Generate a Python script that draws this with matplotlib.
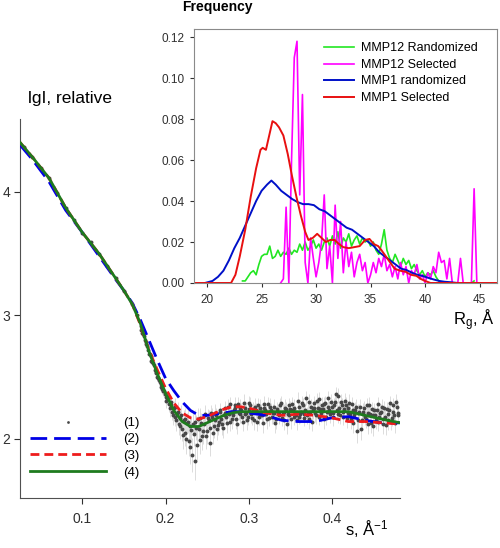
import numpy as np
import matplotlib
matplotlib.use('Agg')
import matplotlib.pyplot as plt

plt.rcParams['font.family'] = ['Liberation Sans', 'DejaVu Sans']
plt.rcParams['mathtext.fontset'] = 'custom'
plt.rcParams['mathtext.rm'] = 'Liberation Sans'
plt.rcParams['mathtext.default'] = 'regular'

# ---- SAXS data (1): low s part, hidden under the fits
s_low = [0.030, 0.040, 0.050, 0.060, 0.070, 0.080, 0.090, 0.100, 0.110, 0.120,
         0.130, 0.140, 0.150, 0.160, 0.166]
lgI_low = [4.36, 4.28, 4.19, 4.11, 3.99, 3.87, 3.77, 3.67, 3.59, 3.50,
           3.40, 3.30, 3.20, 3.09, 3.00]
err_low = [0.01, 0.01, 0.01, 0.01, 0.01, 0.01, 0.01, 0.01, 0.01, 0.01,
           0.01, 0.015, 0.015, 0.015, 0.02]

# dense part A, s = 0.170 ... 0.480 step 0.002
s_dense_a = np.arange(0.170, 0.4801, 0.002)
lgI_dense_a = [2.91, 2.86, 2.83, 2.78, 2.75, 2.69, 2.67, 2.62, 2.60, 2.54,
               2.50, 2.48, 2.44, 2.40, 2.39, 2.34, 2.33, 2.28, 2.30, 2.22,
               2.25, 2.18, 2.20, 2.12, 2.17, 2.08, 2.15, 2.05, 2.13, 1.98,
               2.10, 1.87, 2.04, 2.14, 1.95, 2.08, 2.17, 2.02, 2.12, 2.20,
               2.06, 2.15, 1.97, 2.18, 2.10, 2.21, 2.08, 2.14, 2.22, 2.12,
               2.19, 2.25, 2.13, 2.20, 2.28, 2.16, 2.23, 2.27, 2.12, 2.21,
               2.25, 2.18, 2.29, 2.20, 2.15, 2.24, 2.27, 2.17, 2.22, 2.26,
               2.14, 2.21, 2.25, 2.19, 2.28, 2.23, 2.16, 2.22, 2.26, 2.18,
               2.21, 2.13, 2.24, 2.20, 2.27, 2.17, 2.22, 2.25, 2.12, 2.19,
               2.24, 2.28, 2.18, 2.21, 2.15, 2.26, 2.20, 2.29, 2.17, 2.23,
               2.19, 2.30, 2.22, 2.14, 2.25, 2.21, 2.31, 2.18, 2.24, 2.27,
               2.16, 2.29, 2.22, 2.33, 2.20, 2.26, 2.18, 2.30, 2.23, 2.35,
               2.19, 2.27, 2.22, 2.31, 2.17, 2.25, 2.20, 2.28, 2.13, 2.23,
               2.06, 2.21, 2.26, 2.15, 2.22, 2.18, 2.27, 2.12, 2.20, 2.24,
               2.10, 2.19, 2.23, 2.14, 2.21, 2.26, 2.12, 2.18, 2.24, 2.15,
               2.29, 2.17, 2.22, 2.13, 2.26, 2.19]
err_dense_a = [0.02, 0.02, 0.02, 0.02, 0.02, 0.02, 0.02, 0.02, 0.03, 0.03,
               0.03, 0.03, 0.04, 0.04, 0.04, 0.05, 0.05, 0.06, 0.05, 0.07,
               0.06, 0.08, 0.07, 0.09, 0.07, 0.10, 0.08, 0.11, 0.08, 0.12,
               0.09, 0.14, 0.10, 0.09, 0.12, 0.10, 0.08, 0.11, 0.09, 0.07,
               0.10, 0.08, 0.11, 0.07, 0.09, 0.07, 0.09, 0.08, 0.06, 0.09,
               0.07, 0.06, 0.08, 0.07, 0.06, 0.08, 0.06, 0.07, 0.08, 0.06,
               0.07, 0.06, 0.07, 0.06, 0.08, 0.06, 0.07, 0.06, 0.06, 0.07,
               0.08, 0.06, 0.07, 0.06, 0.07, 0.06, 0.08, 0.06, 0.07, 0.06,
               0.07, 0.08, 0.06, 0.07, 0.06, 0.07, 0.06, 0.07, 0.08, 0.06,
               0.07, 0.06, 0.07, 0.06, 0.08, 0.06, 0.07, 0.06, 0.07, 0.06,
               0.07, 0.06, 0.07, 0.08, 0.06, 0.07, 0.06, 0.07, 0.06, 0.07,
               0.08, 0.06, 0.07, 0.06, 0.07, 0.06, 0.08, 0.06, 0.07, 0.06,
               0.07, 0.06, 0.07, 0.06, 0.08, 0.06, 0.07, 0.06, 0.08, 0.07,
               0.09, 0.07, 0.06, 0.08, 0.07, 0.07, 0.06, 0.08, 0.07, 0.06,
               0.08, 0.07, 0.06, 0.08, 0.07, 0.06, 0.08, 0.07, 0.06, 0.08,
               0.06, 0.07, 0.07, 0.08, 0.06, 0.07]

# dense part B, s = 0.171 ... 0.479 step 0.002
s_dense_b = np.arange(0.171, 0.4791, 0.002)
lgI_dense_b = [2.88, 2.85, 2.80, 2.77, 2.72, 2.69, 2.63, 2.61, 2.56, 2.53,
               2.49, 2.46, 2.42, 2.39, 2.36, 2.31, 2.34, 2.25, 2.27, 2.19,
               2.26, 2.15, 2.22, 2.10, 2.19, 2.03, 2.16, 2.00, 2.14, 1.93,
               2.07, 2.12, 1.82, 2.09, 2.16, 1.99, 2.13, 2.06, 2.19, 2.02,
               2.17, 2.09, 2.21, 2.05, 2.15, 2.19, 2.11, 2.23, 2.16, 2.09,
               2.21, 2.18, 2.26, 2.14, 2.22, 2.19, 2.25, 2.16, 2.28, 2.20,
               2.23, 2.14, 2.25, 2.21, 2.18, 2.29, 2.20, 2.24, 2.15, 2.23,
               2.27, 2.18, 2.22, 2.13, 2.25, 2.20, 2.28, 2.17, 2.23, 2.21,
               2.26, 2.16, 2.22, 2.19, 2.29, 2.21, 2.15, 2.24, 2.20, 2.27,
               2.16, 2.23, 2.25, 2.19, 2.31, 2.18, 2.22, 2.27, 2.20, 2.33,
               2.21, 2.16, 2.26, 2.23, 2.29, 2.19, 2.25, 2.32, 2.21, 2.24,
               2.28, 2.18, 2.26, 2.23, 2.30, 2.21, 2.27, 2.36, 2.20, 2.25,
               2.30, 2.18, 2.24, 2.27, 2.21, 2.29, 2.16, 2.23, 2.19, 2.26,
               2.15, 2.22, 2.08, 2.20, 2.25, 2.16, 2.21, 2.27, 2.13, 2.19,
               2.23, 2.15, 2.28, 2.18, 2.22, 2.16, 2.25, 2.11, 2.20, 2.23,
               2.14, 2.27, 2.19, 2.30, 2.21]
err_dense_b = [0.02, 0.02, 0.02, 0.02, 0.02, 0.02, 0.02, 0.02, 0.03, 0.03,
               0.03, 0.04, 0.04, 0.04, 0.05, 0.06, 0.05, 0.07, 0.06, 0.08,
               0.07, 0.09, 0.08, 0.10, 0.08, 0.11, 0.09, 0.12, 0.09, 0.13,
               0.10, 0.09, 0.15, 0.10, 0.09, 0.11, 0.08, 0.10, 0.07, 0.10,
               0.07, 0.08, 0.06, 0.09, 0.07, 0.06, 0.08, 0.06, 0.07, 0.08,
               0.06, 0.07, 0.06, 0.08, 0.06, 0.07, 0.06, 0.08, 0.06, 0.07,
               0.06, 0.08, 0.06, 0.07, 0.07, 0.06, 0.07, 0.06, 0.08, 0.06,
               0.06, 0.07, 0.06, 0.08, 0.06, 0.07, 0.06, 0.07, 0.06, 0.07,
               0.06, 0.08, 0.06, 0.07, 0.06, 0.07, 0.08, 0.06, 0.07, 0.06,
               0.08, 0.06, 0.07, 0.06, 0.07, 0.06, 0.07, 0.06, 0.07, 0.06,
               0.07, 0.08, 0.06, 0.07, 0.06, 0.07, 0.06, 0.06, 0.07, 0.06,
               0.06, 0.07, 0.06, 0.07, 0.06, 0.07, 0.06, 0.06, 0.07, 0.06,
               0.06, 0.07, 0.06, 0.07, 0.06, 0.07, 0.08, 0.06, 0.07, 0.06,
               0.07, 0.06, 0.09, 0.07, 0.06, 0.07, 0.06, 0.07, 0.08, 0.07,
               0.06, 0.07, 0.06, 0.07, 0.06, 0.07, 0.06, 0.08, 0.07, 0.06,
               0.07, 0.06, 0.07, 0.06, 0.07]

# ---- fits (2) (3) (4)
s_fit = [0.025, 0.04, 0.06, 0.08, 0.10, 0.12, 0.14, 0.15, 0.16, 0.17,
         0.18, 0.19, 0.20, 0.21, 0.22, 0.23, 0.24, 0.25, 0.26, 0.27,
         0.28, 0.29, 0.30, 0.32, 0.34, 0.36, 0.38, 0.40, 0.42, 0.44,
         0.46, 0.482]
fit_blue = [4.38, 4.26, 4.08, 3.85, 3.67, 3.48, 3.29, 3.20, 3.10, 2.96,
            2.80, 2.64, 2.49, 2.39, 2.30, 2.23, 2.19, 2.19, 2.20, 2.21,
            2.22, 2.22, 2.21, 2.19, 2.15, 2.14, 2.14, 2.17, 2.18, 2.15,
            2.13, 2.13]
fit_red = [4.40, 4.28, 4.11, 3.87, 3.67, 3.50, 3.30, 3.20, 3.09, 2.92,
           2.72, 2.56, 2.41, 2.29, 2.21, 2.17, 2.16, 2.18, 2.21, 2.24,
           2.26, 2.26, 2.25, 2.21, 2.19, 2.20, 2.19, 2.17, 2.14, 2.14,
           2.13, 2.12]
fit_green = [4.40, 4.28, 4.11, 3.87, 3.67, 3.50, 3.30, 3.20, 3.09, 2.93,
             2.71, 2.53, 2.37, 2.23, 2.14, 2.10, 2.10, 2.13, 2.16, 2.19,
             2.21, 2.22, 2.22, 2.22, 2.22, 2.22, 2.22, 2.22, 2.22, 2.19,
             2.16, 2.13]
main_labels = ['(1)', '(2)', '(3)', '(4)']

# ---- inset: Rg distributions
rg_green = [23.25, 23.5, 23.75, 24.0, 24.25, 24.5, 24.75, 25.0, 25.25, 25.5,
            25.75, 26.0, 26.25, 26.5, 26.75, 27.0, 27.25, 27.5, 27.75, 28.0,
            28.25, 28.5, 28.75, 29.0, 29.25, 29.5, 29.75, 30.0, 30.25, 30.5,
            30.75, 31.0, 31.25, 31.5, 31.75, 32.0, 32.25, 32.5, 32.75, 33.0,
            33.25, 33.5, 33.75, 34.0, 34.25, 34.5, 34.75, 35.0, 35.25, 35.5,
            35.75, 36.0, 36.25, 36.5, 36.75, 37.0, 37.25, 37.5, 37.75, 38.0,
            38.25, 38.5, 38.75, 39.0, 39.25, 39.5, 39.75, 40.0, 40.25, 40.5,
            40.75, 41.0, 41.25, 41.5, 44.25, 44.5]
f_green = [0.001, 0.001, 0.003, 0.005, 0.006, 0.004, 0.009, 0.013, 0.014, 0.014,
           0.018, 0.012, 0.013, 0.016, 0.013, 0.015, 0.014, 0.017, 0.014, 0.016,
           0.015, 0.019, 0.016, 0.020, 0.016, 0.018, 0.021, 0.017, 0.019, 0.016,
           0.020, 0.022, 0.018, 0.023, 0.019, 0.025, 0.017, 0.022, 0.020, 0.024,
           0.018, 0.021, 0.023, 0.019, 0.022, 0.020, 0.021, 0.018, 0.020, 0.016,
           0.014, 0.019, 0.026, 0.016, 0.012, 0.010, 0.014, 0.011, 0.008, 0.012,
           0.009, 0.011, 0.007, 0.009, 0.006, 0.004, 0.006, 0.003, 0.005, 0.004,
           0.006, 0.003, 0.001, 0.000, 0.000, 0.001]

rg_mag = [26.75, 27.0, 27.25, 27.5, 27.75, 28.0, 28.25, 28.5, 28.75, 29.0,
          29.25, 29.5, 29.75, 30.0, 30.25, 30.5, 30.75, 31.0, 31.25, 31.5,
          31.75, 32.0, 32.25, 32.5, 32.75, 33.0, 33.25, 33.5, 33.75, 34.0,
          34.25, 34.5, 34.75, 35.0, 35.25, 35.5, 35.75, 36.0, 36.25, 36.5,
          36.75, 37.0, 37.25, 37.5, 37.75, 38.0, 38.25, 38.5, 38.75, 39.0,
          39.25, 39.5, 39.75, 40.0, 40.25, 40.5, 40.75, 41.0, 41.25, 41.5,
          41.75, 42.0, 42.25, 42.5, 43.0, 43.25, 43.5, 44.25, 44.5, 44.75]
f_mag = [0.0, 0.002, 0.037, 0.0, 0.060, 0.110, 0.118, 0.043, 0.092, 0.010,
         0.0, 0.022, 0.012, 0.003, 0.010, 0.020, 0.043, 0.007, 0.018, 0.0,
         0.038, 0.012, 0.030, 0.005, 0.020, 0.008, 0.015, 0.003, 0.010, 0.014,
         0.006, 0.010, 0.0, 0.004, 0.010, 0.005, 0.012, 0.008, 0.014, 0.006,
         0.009, 0.003, 0.008, 0.002, 0.010, 0.004, 0.008, 0.0, 0.006, 0.004,
         0.009, 0.002, 0.004, 0.0, 0.005, 0.002, 0.008, 0.005, 0.015, 0.010,
         0.011, 0.002, 0.012, 0.0, 0.0, 0.012, 0.0, 0.0, 0.046, 0.0]

rg_blue = [19.8, 20.5, 21.0, 21.5, 22.0, 22.5, 23.0, 23.5, 24.0, 24.5,
           25.0, 25.5, 25.9, 26.3, 26.8, 27.3, 27.8, 28.3, 28.8, 29.3,
           29.8, 30.3, 30.8, 31.3, 31.8, 32.3, 32.8, 33.3, 33.8, 34.3,
           34.8, 35.3, 35.8, 36.3, 36.8, 37.3, 37.8, 38.3, 38.8, 39.3,
           39.8, 40.3, 40.8, 41.3, 41.8, 42.3, 43.0]
f_blue = [0.0, 0.001, 0.003, 0.006, 0.011, 0.017, 0.022, 0.028, 0.034, 0.040,
          0.045, 0.048, 0.050, 0.048, 0.045, 0.043, 0.041, 0.0395, 0.0385, 0.0385,
          0.038, 0.036, 0.035, 0.033, 0.031, 0.029, 0.027, 0.026, 0.024, 0.022,
          0.020, 0.018, 0.015, 0.013, 0.011, 0.009, 0.007, 0.0063, 0.005, 0.004,
          0.0034, 0.0025, 0.0017, 0.001, 0.0006, 0.0004, 0.0]

rg_red = [18.8, 22.2, 22.6, 23.0, 23.5, 24.0, 24.5, 24.9, 25.1, 25.4,
          25.7, 26.0, 26.3, 26.6, 27.0, 27.4, 27.8, 28.2, 28.6, 29.0,
          29.3, 29.7, 30.1, 30.5, 30.9, 31.3, 31.7, 32.1, 32.5, 33.0,
          33.5, 34.0, 34.5, 34.9, 35.3, 35.7, 36.0, 36.4, 36.8, 37.2,
          37.7, 38.2, 38.7, 39.2, 39.6, 40.0, 40.5, 46.6]
f_red = [0.0, 0.0, 0.004, 0.013, 0.026, 0.042, 0.056, 0.065, 0.066, 0.065,
         0.072, 0.079, 0.078, 0.076, 0.072, 0.063, 0.052, 0.042, 0.033, 0.025,
         0.021, 0.022, 0.024, 0.022, 0.020, 0.021, 0.021, 0.019, 0.0175, 0.017,
         0.0175, 0.018, 0.021, 0.0215, 0.019, 0.018, 0.016, 0.013, 0.010, 0.007,
         0.006, 0.0055, 0.004, 0.0035, 0.002, 0.001, 0.0, 0.0]
inset_labels = ['MMP12 Randomized', 'MMP12 Selected', 'MMP1 randomized', 'MMP1 Selected']

fig = plt.figure(figsize=(5, 5.48), dpi=100)

# main SAXS axes
ax = fig.add_axes([0.04, 0.091, 0.76, 0.692])
s_all = np.concatenate([s_low, s_dense_a, s_dense_b])
lgI_all = np.concatenate([lgI_low, lgI_dense_a, lgI_dense_b])
err_all = np.concatenate([err_low, err_dense_a, err_dense_b])
ax.errorbar(s_all, lgI_all, yerr=err_all, fmt='none', ecolor='#dcdcdc', elinewidth=0.7, zorder=1)
pts = ax.scatter(s_all, lgI_all, s=8, color='#474747', linewidths=0, zorder=2)
l2, = ax.plot(s_fit, fit_blue, color='#0000e6', lw=2, dashes=(6, 2.5), zorder=3)
l3, = ax.plot(s_fit, fit_red, color='#ee1c1c', lw=2, dashes=(3.2, 1.8), zorder=4)
l4, = ax.plot(s_fit, fit_green, color='#1e7b1e', lw=2, zorder=5)

ax.set_xlim(0.025, 0.482)
ax.set_ylim(1.52, 4.59)
ax.set_xticks([0.1, 0.2, 0.3, 0.4])
ax.set_xticklabels(['0.1', '0.2', '0.3', '0.4'])
ax.set_yticks([2, 3, 4])
ax.set_yticklabels(['2', '3', '4'])
for side in ['top', 'right']:
    ax.spines[side].set_visible(False)
for side in ['left', 'bottom']:
    ax.spines[side].set_color('#505050')
ax.tick_params(direction='out', length=4, labelsize=10, colors='#303030')
ax.tick_params(axis='x', pad=6)
ax.tick_params(axis='y', pad=3)

ax.legend([pts, l2, l3, l4], main_labels, loc='upper left', bbox_to_anchor=(0.025, 0.215),
          frameon=False, fontsize=9.5, handlelength=5.8, handletextpad=1.3,
          labelspacing=0.33, borderaxespad=0, borderpad=0, scatterpoints=1, markerscale=0.7)

fig.text(0.056, 0.821, 'lgI, relative', fontsize=12.5, va='center', ha='left')
fig.text(0.734, 0.035, 's, Å$^{-1}$', fontsize=12, va='center', ha='center')

# inset Rg distributions
axin = fig.add_axes([0.388, 0.4836, 0.606, 0.4635])
axin.plot(rg_green, f_green, color='#22e622', lw=1.2, label=inset_labels[0])
axin.plot(rg_mag, f_mag, color='#ff00ff', lw=1.2, label=inset_labels[1])
axin.plot(rg_blue, f_blue, color='#0010c8', lw=1.4, label=inset_labels[2])
axin.plot(rg_red, f_red, color='#e81010', lw=1.4, label=inset_labels[3])
axin.set_xlim(18.8, 46.6)
axin.set_ylim(0, 0.124)
axin.set_xticks([20, 25, 30, 35, 40, 45])
axin.set_yticks([0, 0.02, 0.04, 0.06, 0.08, 0.10, 0.12])
axin.set_yticklabels(['%.2f' % v for v in [0, 0.02, 0.04, 0.06, 0.08, 0.10, 0.12]])
for side in axin.spines:
    axin.spines[side].set_color('#8a8a8a')
    axin.spines[side].set_linewidth(0.8)
axin.tick_params(direction='out', length=3, labelsize=8.5, colors='#303030')
axin.tick_params(axis='x', pad=5)
axin.tick_params(axis='y', pad=4)
axin.legend(loc='upper right', bbox_to_anchor=(0.935, 0.947), frameon=False, fontsize=9,
            handlelength=2.4, handletextpad=0.55, labelspacing=0.36,
            borderaxespad=0, borderpad=0)

fig.text(0.364, 0.987, 'Frequency', fontsize=10, fontweight='bold', va='center', ha='left')
fig.text(0.948, 0.416, 'R$_g$, Å', fontsize=12, va='center', ha='center')

fig.savefig('out.png', dpi=100)
